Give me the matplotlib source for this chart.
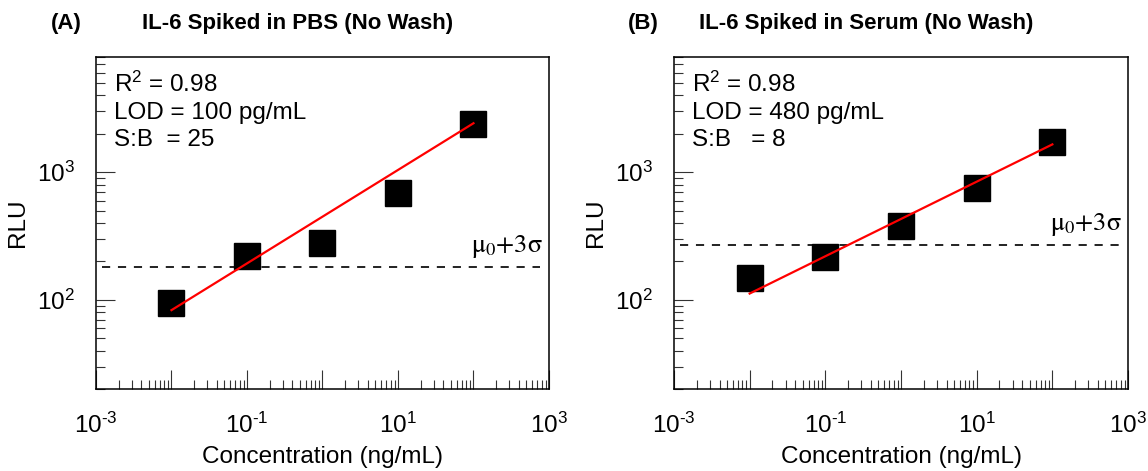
import numpy as np
import matplotlib
matplotlib.use("Agg")
import matplotlib.pyplot as plt
from matplotlib.ticker import LogLocator, FuncFormatter, NullFormatter

plt.rcParams['font.family'] = ['Liberation Sans', 'DejaVu Sans']
plt.rcParams['mathtext.fontset'] = 'custom'
plt.rcParams['mathtext.rm'] = 'Liberation Sans'
plt.rcParams['mathtext.it'] = 'Liberation Sans:italic'
plt.rcParams['mathtext.bf'] = 'Liberation Sans:bold'

# data
conc = [0.01, 0.1, 1, 10, 100]  # ng/mL
rlu_pbs = [95, 222, 277, 685, 2400]
rlu_serum = [147, 218, 376, 757, 1723]

fit_x = [0.01, 100]
fit_pbs = [83, 2420]
fit_serum = [112, 1652]

thresh_x = [1.2e-3, 7.6e2]
thresh_pbs = 180
thresh_serum = 270

panels = [
    ("(A)", "IL-6 Spiked in PBS (No Wash)", rlu_pbs, fit_pbs, thresh_pbs,
     "R$^2$ = 0.98\nLOD = 100 pg/mL\nS:B  = 25"),
    ("(B)", "IL-6 Spiked in Serum (No Wash)", rlu_serum, fit_serum, thresh_serum,
     "R$^2$ = 0.98\nLOD = 480 pg/mL\nS:B   = 8"),
]

fig = plt.figure(figsize=(11.48, 4.71), dpi=100)
axes_pos = [[0.0836, 0.1741, 0.3946, 0.7049], [0.5871, 0.1741, 0.3955, 0.7049]]
tag_x = [0.0575, 0.560]
title_x = [0.2596, 0.7548]


def xfmt(v, pos):
    e = int(round(np.log10(v)))
    if e % 2 == 0:
        return ""
    if e < 0:
        return r"$\mathregular{10^{\text{-}%d}}$" % (-e)
    return r"$\mathregular{10^{%d}}$" % e


def yfmt(v, pos):
    e = int(round(np.log10(v)))
    return r"$\mathregular{10^{%d}}$" % e


for i, (tag, title, rlu, fit, thr, note) in enumerate(panels):
    ax = fig.add_axes(axes_pos[i])
    ax.set_xscale('log')
    ax.set_yscale('log')
    ax.set_xlim(1e-3, 1e3)
    ax.set_ylim(20, 8000)

    ax.hlines(thr, thresh_x[0], thresh_x[1], colors='#222222', linewidth=1.4,
              linestyles=(0, (4.2, 4.0)))
    ax.plot(conc, rlu, 's', color='black', markersize=18.5, zorder=3)
    ax.plot(fit_x, fit, color='#ff0000', linewidth=1.6, zorder=4)

    ax.annotate(r"$\mathrm{\mu_0{+}3\sigma}$", xy=(0.985, thr),
                xycoords=('axes fraction', 'data'), xytext=(0, 5),
                textcoords='offset points', ha='right', va='bottom',
                fontsize=19, math_fontfamily='stix')

    ax.text(0.04, 0.955, note, transform=ax.transAxes, ha='left', va='top',
            fontsize=17.5, linespacing=1.3)

    ax.xaxis.set_major_locator(LogLocator(base=10, numticks=20))
    ax.xaxis.set_minor_locator(LogLocator(base=10, subs=np.arange(2, 10), numticks=20))
    ax.yaxis.set_major_locator(LogLocator(base=10, numticks=20))
    ax.yaxis.set_minor_locator(LogLocator(base=10, subs=np.arange(2, 10), numticks=20))
    ax.xaxis.set_major_formatter(FuncFormatter(xfmt))
    ax.yaxis.set_major_formatter(FuncFormatter(yfmt))
    ax.xaxis.set_minor_formatter(NullFormatter())
    ax.yaxis.set_minor_formatter(NullFormatter())

    ax.tick_params(which='both', direction='in', top=False, right=False,
                   color='#333333', width=0.8, labelsize=17.5)
    ax.tick_params(which='major', length=13.5)
    ax.tick_params(which='minor', length=6.5)
    ax.tick_params(axis='x', which='major', pad=17)
    ax.tick_params(axis='y', which='major', pad=15)
    for s in ax.spines.values():
        s.set_linewidth(1.1)

    ax.set_xlabel("Concentration (ng/mL)", fontsize=17.5, labelpad=6)
    ax.set_ylabel("RLU", fontsize=17.5, labelpad=6)

    fig.text(tag_x[i], 0.951, tag, ha='center', va='center', fontsize=16, fontweight='bold')
    fig.text(title_x[i], 0.951, title, ha='center', va='center', fontsize=16, fontweight='bold')

fig.savefig('out.png', dpi=100)
